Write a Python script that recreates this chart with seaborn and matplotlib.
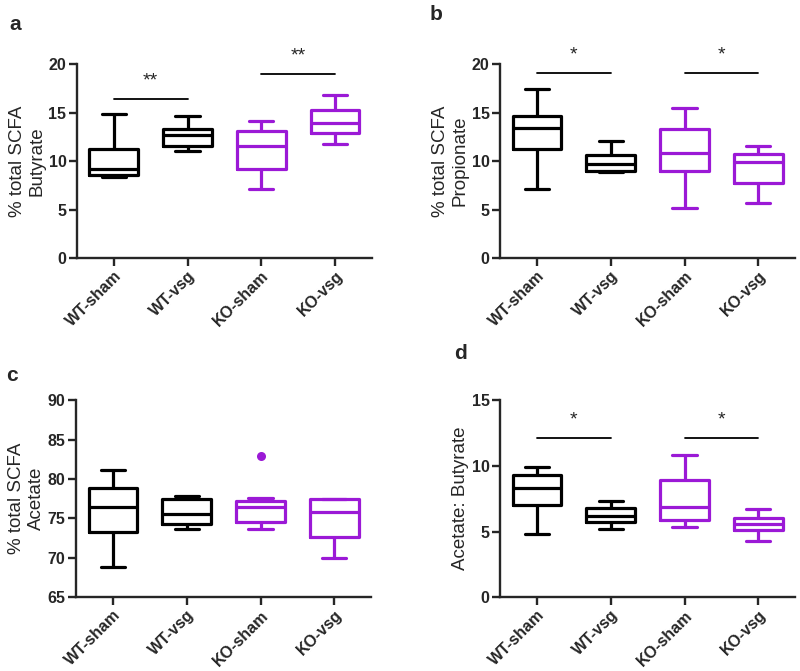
import pandas as pd
import matplotlib.pyplot as plt
import seaborn as sns

# groups on the x axis
groups = ["WT-sham", "WT-vsg", "KO-sham", "KO-vsg"]

# five-number summaries: min, Q1, median, Q3, max
butyrate = [[8.4, 8.6, 9.2, 11.2, 14.8],
            [11.0, 11.6, 12.7, 13.3, 14.6],
            [7.1, 9.2, 11.6, 13.1, 14.1],
            [11.8, 12.9, 13.9, 15.3, 16.8]]
propionate = [[7.1, 11.2, 13.4, 14.6, 17.4],
              [8.9, 8.95, 9.7, 10.6, 12.1],
              [5.2, 8.95, 10.8, 13.3, 15.5],
              [5.7, 7.7, 9.9, 10.7, 11.5]]
acetate = [[68.8, 73.3, 76.4, 78.9, 81.2],
           [73.6, 74.3, 75.5, 77.5, 77.8],
           [73.6, 74.5, 76.4, 77.2, 77.6],
           [70.0, 72.7, 75.8, 77.45, 77.5]]
acetate_outliers = {"KO-sham": [82.9]}
ratio = [[4.8, 7.0, 8.35, 9.3, 9.9],
         [5.2, 5.75, 6.2, 6.8, 7.3],
         [5.35, 5.9, 6.9, 8.9, 10.8],
         [4.3, 5.1, 5.6, 6.05, 6.7]]

# significance bars: (group a, group b, bar height, label)
sig_a = [(0, 1, 16.4, "**"), (2, 3, 19.0, "**")]
sig_b = [(0, 1, 19.1, "*"), (2, 3, 19.1, "*")]
sig_d = [(0, 1, 12.1, "*"), (2, 3, 12.1, "*")]

black = "#000000"
purple = "#9b19d6"
pal = dict(zip(groups, [black, black, purple, purple]))

sns.set_style("ticks")
plt.rcParams["font.family"] = ["Liberation Sans", "DejaVu Sans"]


def to_long(summary):
    rows = []
    for g, vals in zip(groups, summary):
        for v in vals:
            rows.append({"group": g, "value": v})
    return pd.DataFrame(rows)


fig = plt.figure(figsize=(8, 6.71), dpi=100)
ax_a = fig.add_axes([0.096, 0.6155, 0.369, 0.289])
ax_b = fig.add_axes([0.625, 0.6155, 0.369, 0.289])
ax_c = fig.add_axes([0.095, 0.110, 0.369, 0.2936])
ax_d = fig.add_axes([0.625, 0.110, 0.369, 0.2936])

panels = [
    (ax_a, butyrate, "% total SCFA\nButyrate", (0, 20), [0, 5, 10, 15, 20], sig_a),
    (ax_b, propionate, "% total SCFA\nPropionate", (0, 20), [0, 5, 10, 15, 20], sig_b),
    (ax_c, acetate, "% total SCFA\nAcetate", (65, 90), [65, 70, 75, 80, 85, 90], []),
    (ax_d, ratio, "Acetate: Butyrate", (0, 15), [0, 5, 10, 15], sig_d),
]

for ax, summary, label, ylim, yticks, sigs in panels:
    df = to_long(summary)
    sns.boxplot(data=df, x="group", y="value", hue="group", order=groups,
                palette=pal, fill=False, whis=(0, 100), width=0.66,
                linewidth=2.3, legend=False, ax=ax)
    ax.set_xlim(-0.5, 3.5)
    ax.set_ylim(*ylim)
    ax.set_yticks(yticks)
    ax.set_xlabel("")
    sns.despine(ax=ax)
    for s in ["left", "bottom"]:
        ax.spines[s].set_linewidth(1.7)
    ax.tick_params(width=1.7, length=6, labelsize=11.5, pad=1.5)
    for t in ax.get_yticklabels():
        t.set_fontweight("bold")
    ax.set_xticks(range(len(groups)))
    ax.set_xticklabels(groups, rotation=45, ha="right", rotation_mode="anchor",
                       fontweight="bold", fontsize=11.5)
    span = ylim[1] - ylim[0]
    for x0, x1, h, txt in sigs:
        ax.plot([x0, x1], [h, h], color="black", lw=1.3, clip_on=False)
        ax.text((x0 + x1) / 2, h + span * 0.05, txt, ha="center", va="bottom",
                fontsize=14, clip_on=False)

# outlier in panel c
out_df = pd.DataFrame([{"group": g, "value": v}
                       for g, vs in acetate_outliers.items() for v in vs])
sns.stripplot(data=out_df, x="group", y="value", order=groups, jitter=False,
              color=purple, size=6.5, ax=ax_c)
ax_c.set_xlabel("")

for ax, summary, label, ylim, yticks, sigs in panels:
    ax.set_ylabel(label, fontsize=13.5, labelpad=2)

for txt, x, y in [("a", 0.012, 0.963), ("b", 0.537, 0.978),
                  ("c", 0.008, 0.440), ("d", 0.568, 0.473)]:
    fig.text(x, y, txt, fontsize=15, fontweight="bold", va="center")

fig.savefig("out.png", dpi=100)
